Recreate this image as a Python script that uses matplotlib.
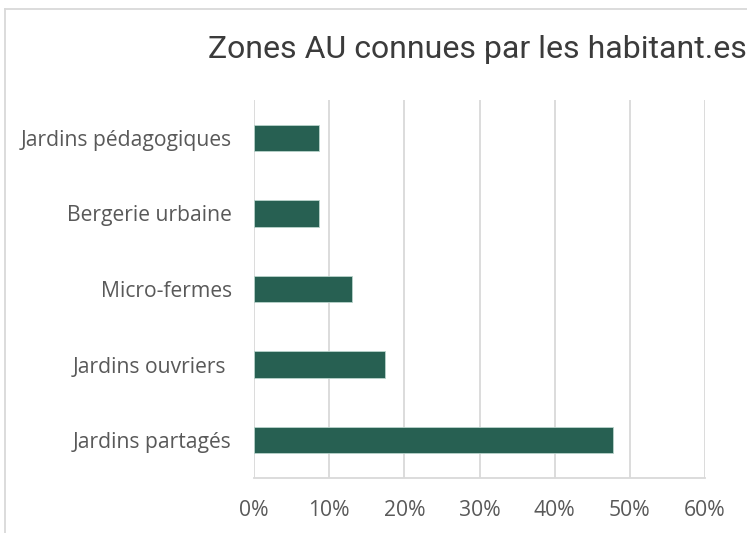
import matplotlib.pyplot as plt
from matplotlib.lines import Line2D
from matplotlib.ticker import PercentFormatter

categories = ["Jardins partagés", "Jardins ouvriers ", "Micro-fermes", "Bergerie urbaine", "Jardins pédagogiques"]
values = [47.8, 17.4, 13.0, 8.7, 8.7]
ticks = [0, 10, 20, 30, 40, 50, 60]

W, H = 747, 533
fig = plt.figure(figsize=(W / 100, H / 100), dpi=100)

# axes in pixel coords -> figure fraction
left, right, top, bottom = 254, 705, 100, 478
ax = fig.add_axes([left / W, 1 - bottom / H, (right - left) / W, (bottom - top) / H])

ax.barh(range(len(categories)), values, height=0.35, color="#276052",
        edgecolor="#b9d3cb", linewidth=0.6, zorder=3)
ax.set_xlim(0, 60)
ax.set_ylim(-0.5, len(categories) - 0.5)
ax.set_xticks(ticks)
ax.xaxis.set_major_formatter(PercentFormatter(decimals=0))
ax.set_yticks(range(len(categories)))
ax.set_yticklabels(categories)
ax.grid(axis="x", color="#d9d9d9", linewidth=1.3, zorder=0)
for s in ["top", "right", "left"]:
    ax.spines[s].set_visible(False)
ax.spines["bottom"].set_color("#d9d9d9")
ax.spines["bottom"].set_linewidth(1.3)
ax.tick_params(length=0, colors="#595959", labelsize=15.2)
ax.tick_params(axis="x", pad=16)
ax.tick_params(axis="y", pad=16)
for lab in ax.get_xticklabels() + ax.get_yticklabels():
    lab.set_family("Open Sans")

fig.text(208 / W, 1 - 50 / H, "Zones AU connues par les habitant.es", fontsize=23,
         color="#3b3b3b", ha="left", va="center", family="Roboto")

# chart frame (cropped)
fig.add_artist(Line2D([5 / W, 5 / W], [0, 1 - 9 / H], color="#d9d9d9", linewidth=1.3))
fig.add_artist(Line2D([5 / W, 1], [1 - 9 / H, 1 - 9 / H], color="#d9d9d9", linewidth=1.3))

fig.savefig("out.png", dpi=100)
